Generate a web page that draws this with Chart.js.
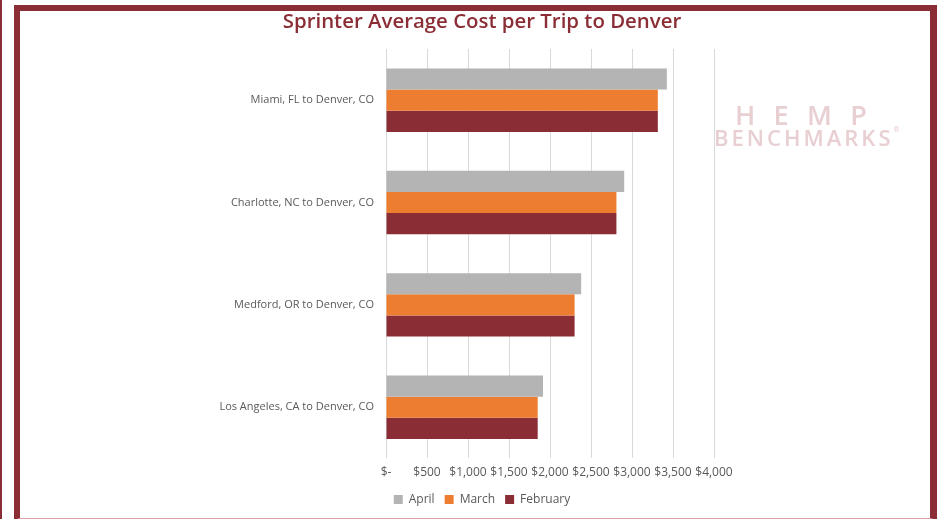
<!DOCTYPE html>
<html>
<head>
<meta charset="utf-8">
<script src="https://cdn.jsdelivr.net/npm/chart.js@4"></script>
<style>
  body { margin: 0; background: #fff; }
  #wrap { position: relative; width: 938px; height: 519px; overflow: hidden; }
  #grafico { position: absolute; left: 0; top: 0; }
  .edge { position: absolute; left: 0; top: 0; width: 2px; height: 519px; background: #8B2D35; }
  .frame { position: absolute; left: 14px; top: 5px; width: 910px; height: 507px;
           border: 6px solid #8B2D35; border-right-width: 7px; border-bottom: 2px solid #D9A3A8;
           pointer-events: none; }
  .marca { position: absolute; color: #E8CFD1; font-family: "Open Sans", sans-serif;
           font-weight: 600; line-height: 1; white-space: nowrap; }
  .marca.h { left: 735px; top: 101px; font-size: 27px; letter-spacing: 18.3px; }
  .marca.b { left: 714px; top: 126px; font-size: 22px; letter-spacing: 3px; }
  .marca sup { font-size: 7px; vertical-align: top; letter-spacing: 0; }
</style>
</head>
<body>
<div id="wrap">
  <canvas id="grafico" width="964" height="519"></canvas>
  <div class="edge"></div>
  <div class="frame"></div>
  <div class="marca h">HEMP</div>
  <div class="marca b">BENCHMARKS<sup>®</sup></div>
</div>
<script>
// Datos
const rutas = ['Miami, FL to Denver, CO', 'Charlotte, NC to Denver, CO', 'Medford, OR to Denver, CO', 'Los Angeles, CA to Denver, CO'];
const abril = [3425, 2905, 2380, 1915];
const marzo = [3315, 2810, 2300, 1850];
const febrero = [3315, 2810, 2300, 1850];
const meses = ['April', 'March', 'February'];

const gris = '#595959';

const ctx = document.getElementById('grafico').getContext('2d');
new Chart(ctx, {
  type: 'bar',
  data: {
    labels: rutas,
    datasets: [
      { label: meses[0], data: abril, backgroundColor: '#B4B4B4' },
      { label: meses[1], data: marzo, backgroundColor: '#ED7D31' },
      { label: meses[2], data: febrero, backgroundColor: '#8B2D35' }
    ]
  },
  options: {
    indexAxis: 'y',
    responsive: false,
    animation: false,
    categoryPercentage: 0.62,
    barPercentage: 1,
    layout: { padding: { left: 0, right: 0, top: 10, bottom: 3.6 } },
    plugins: {
      title: {
        display: true,
        text: 'Sprinter Average Cost per Trip to Denver',
        color: '#8B2D35',
        font: { family: 'Open Sans', size: 20.4, weight: '600' },
        padding: { top: 0, bottom: 14.5 }
      },
      legend: {
        position: 'bottom',
        labels: {
          boxWidth: 9,
          boxHeight: 9,
          padding: 10,
          color: gris,
          font: { family: 'Open Sans', size: 12 }
        }
      },
      tooltip: { enabled: false }
    },
    scales: {
      x: {
        min: 0,
        max: 4000,
        afterFit: s => { s.height = 25; },
        ticks: {
          stepSize: 500,
          padding: 7,
          maxRotation: 0,
          minRotation: 0,
          autoSkip: false,
          color: gris,
          font: { family: 'Open Sans', size: 12 },
          callback: v => v === 0 ? '$-' : '$' + v.toLocaleString('en-US')
        },
        grid: { color: '#D9D9D9', drawTicks: false },
        border: { display: false }
      },
      y: {
        afterFit: s => { s.width = 386; },
        ticks: {
          padding: 12,
          color: gris,
          font: { family: 'Open Sans', size: 11 }
        },
        grid: { display: false, drawTicks: false },
        border: { display: false }
      },
      // eje vacío a la derecha: deja el área del gráfico en 386..714
      margen: {
        type: 'category',
        position: 'right',
        afterFit: s => { s.width = 250; },
        ticks: { display: false },
        grid: { display: false, drawTicks: false },
        border: { display: false }
      }
    }
  }
});
</script>
</body>
</html>
